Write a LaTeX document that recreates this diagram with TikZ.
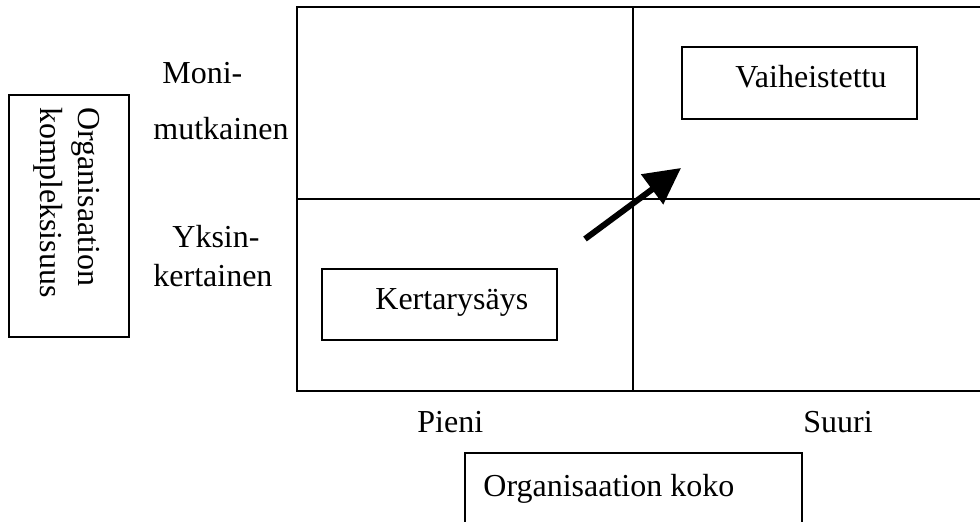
\documentclass[tikz,border=0pt]{standalone}
\usepackage{fontspec}
\setmainfont{Liberation Serif}
\usetikzlibrary{arrows.meta}
\begin{document}
\begin{tikzpicture}[x=0.5pt,y=-0.5pt,
  lbl/.style={inner sep=0pt, anchor=base west, font=\fontsize{16}{19}\selectfont},
  frame/.style={draw, line width=1pt, inner sep=0pt},
  gridline/.style={line width=1pt}]
\useasboundingbox (0,0) rectangle (980,522);
% grid
\coordinate (gtl) at (297,7);
\coordinate (gbl) at (297,391);
\coordinate (gtr) at (992,7);
\coordinate (gbr) at (992,391);
\coordinate (vt) at (633,7);
\coordinate (vb) at (633,391);
\coordinate (hl) at (297,199);
\coordinate (hr) at (992,199);
\draw[gridline] (gtr) -- (gtl) -- (gbl) -- (gbr);
\draw[gridline] (vt) -- (vb);
\draw[gridline] (hl) -- (hr);
% boxes
\node[frame, minimum width=60pt, minimum height=121pt] (kbox) at (69,216) {};
\node[lbl, rotate=-90, anchor=north west, align=left] (ktxt) at (100,107) {Organisaation\\kompleksisuus};
\node[frame, minimum width=117.5pt, minimum height=36pt] (vbox) at (799.5,83) {};
\node[lbl] (vtxt) at (735,88) {Vaiheistettu};
\node[frame, minimum width=117.5pt, minimum height=35.5pt] (kebox) at (439.5,304.5) {};
\node[lbl] (ketxt) at (375,310) {Kertarysäys};
\node[frame, minimum width=168.5pt, minimum height=45pt] (obox) at (633.5,498) {};
\node[lbl] (otxt) at (483,497) {Organisaation koko};
% axis labels
\node[lbl] (m1) at (162,84) {Moni-};
\node[lbl] (m2) at (153,140) {mutkainen};
\node[lbl] (y1) at (172,248) {Yksin-};
\node[lbl] (y2) at (153,287) {kertainen};
\node[lbl] (pieni) at (417,433) {Pieni};
\node[lbl] (suuri) at (803,433) {Suuri};
% arrow
\coordinate (as) at (585,239);
\coordinate (ae) at (681,168);
\draw[line width=3pt, -{Triangle[length=18pt,width=18pt]}] (as) -- (ae);
\end{tikzpicture}
\end{document}
